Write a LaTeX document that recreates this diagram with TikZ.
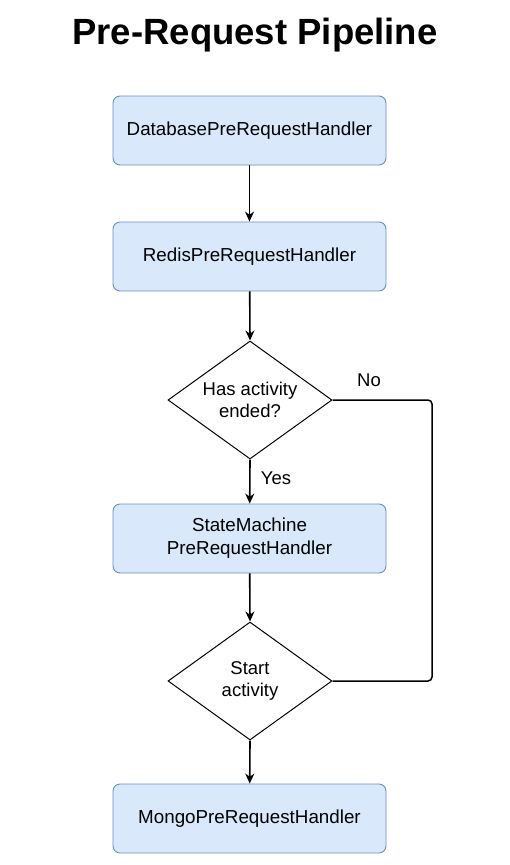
\documentclass[tikz,border=0pt]{standalone}
\usepackage{fontspec}
\setmainfont{Liberation Sans}
\usetikzlibrary{shapes.geometric,arrows.meta}
\definecolor{boxfill}{HTML}{DAE8FC}
\definecolor{boxline}{HTML}{6C8EBF}
\begin{document}
\begin{tikzpicture}[x=1pt,y=1pt,
  proc/.style={draw=boxline,fill=boxfill,rounded corners=7pt,minimum width=273pt,minimum height=69pt,line width=0.9pt,font=\fontsize{18.8}{23}\selectfont,align=center,inner sep=0pt},
  decide/.style={diamond,draw=black,fill=white,line width=1pt,minimum width=164pt,minimum height=118pt,inner sep=0pt,aspect=1.39,font=\fontsize{18.5}{22}\selectfont,align=center},
  flow/.style={-{Stealth[length=10pt,width=9pt]},line width=1.6pt},
  lbl/.style={font=\fontsize{18.5}{22}\selectfont}]
\useasboundingbox (0,0) rectangle (510,-865);
\node[font=\bfseries\fontsize{36.5}{40}\selectfont] (title) at (255,-35) {Pre-Request Pipeline};
\node[proc] (b1) at (249.5,-130.5) {DatabasePreRequestHandler};
\node[proc] (b2) at (249.5,-256.5) {RedisPreRequestHandler};
\node[decide] (d1) at (250,-400) {Has activity\\ended?};
\node[proc] (b3) at (249.5,-538.5) {StateMachine\\PreRequestHandler};
\node[decide] (d2) at (250,-681) {Start\\activity};
\node[proc] (b4) at (249.5,-818.5) {MongoPreRequestHandler};
\coordinate (c1) at (432,-400);
\coordinate (c2) at (432,-681);
\draw[flow] (b1) -- (b2);
\draw[flow] (b2) -- (d1.north);
\draw[flow] (d1.south) -- (b3);
\draw[flow] (b3) -- (d2.north);
\draw[flow] (d2.south) -- (b4);
\draw[line width=1.5pt,rounded corners=4pt] (d1.east) -- (c1) -- (c2) -- (d2.east);
\node[lbl] (no) at (369,-380) {No};
\node[lbl] (yes) at (276,-478) {Yes};
\end{tikzpicture}
\end{document}
